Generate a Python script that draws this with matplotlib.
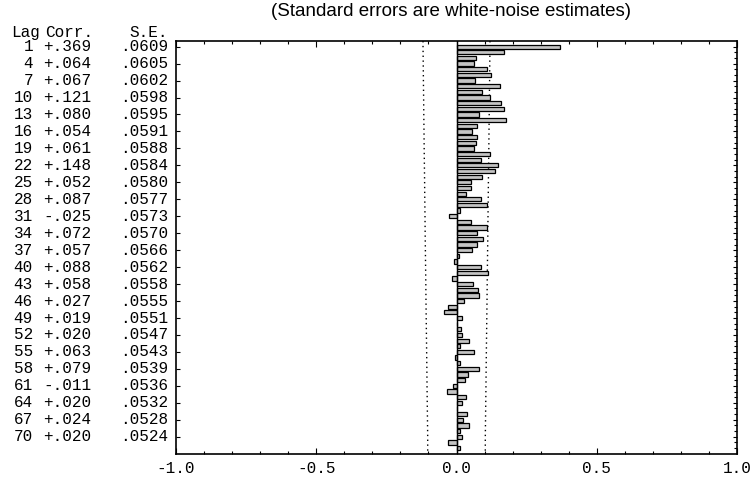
import numpy as np
import matplotlib
matplotlib.use("Agg")
import matplotlib.pyplot as plt
from matplotlib.transforms import blended_transform_factory

lags = list(range(1, 73))
corr = [
    0.369, 0.168, 0.071, 0.064, 0.109, 0.124, 0.067, 0.156, 0.092, 0.121,
    0.160, 0.171, 0.080, 0.175, 0.074, 0.054, 0.072, 0.069, 0.061, 0.119,
    0.089, 0.148, 0.139, 0.091, 0.052, 0.051, 0.033, 0.087, 0.107, 0.013,
    -0.025, 0.051, 0.107, 0.072, 0.096, 0.073, 0.057, 0.008, -0.009, 0.088,
    0.114, -0.015, 0.058, 0.075, 0.079, 0.027, -0.029, -0.045, 0.019, 0.002,
    0.016, 0.020, 0.044, 0.014, 0.063, -0.005, 0.013, 0.079, 0.040, 0.031,
    -0.011, -0.035, 0.035, 0.020, 0.000, 0.039, 0.024, 0.045, 0.011, 0.020,
    -0.029, 0.012,
]

# labelled rows (every 3rd lag)
label_lags = [1, 4, 7, 10, 13, 16, 19, 22, 25, 28, 31, 34, 37, 40, 43, 46,
              49, 52, 55, 58, 61, 64, 67, 70]
label_corr = ["+.369", "+.064", "+.067", "+.121", "+.080", "+.054", "+.061",
              "+.148", "+.052", "+.087", "-.025", "+.072", "+.057", "+.088",
              "+.058", "+.027", "+.019", "+.020", "+.063", "+.079", "-.011",
              "+.020", "+.024", "+.020"]
label_se = [.0609, .0605, .0602, .0598, .0595, .0591, .0588, .0584, .0580,
            .0577, .0573, .0570, .0566, .0562, .0558, .0555, .0551, .0547,
            .0543, .0539, .0536, .0532, .0528, .0524]

mono = "Liberation Mono"
fs = 11.5
W, H = 753, 479

fig = plt.figure(figsize=(W / 100, H / 100), dpi=100)
ax = fig.add_axes([176 / W, 1 - 453.7 / H, (737 - 176) / W, (453.7 - 41) / H])

ax.barh(lags, corr, height=0.75, color="#c4c4c4", edgecolor="black",
        linewidth=0.9, zorder=3)
ax.axvline(0, color="black", lw=1.0, zorder=4)

# white-noise confidence limits (1.96 * S.E.)
ymin, ymax = 0, 73
yl = [ymin] + label_lags + [ymax]
se = np.array([label_se[0]] + label_se + [label_se[-1]])
ax.plot(1.96 * se, yl, color="black", ls=(0, (1, 2.5)), lw=1.0, zorder=2)
ax.plot(-1.96 * se, yl, color="black", ls=(0, (1, 2.5)), lw=1.0, zorder=2)

ax.set_xlim(-1.0, 1.0)
ax.set_ylim(ymax, ymin)

ax.set_xticks([-1.0, -0.5, 0.0, 0.5, 1.0])
ax.set_xticklabels(["-1.0", "-0.5", "0.0", "0.5", "1.0"], family=mono, fontsize=fs)
ax.set_xticks(np.arange(-1.0, 1.01, 0.1), minor=True)
ax.tick_params(axis="x", which="both", direction="in", top=True, bottom=True,
               width=0.8, pad=5)
ax.tick_params(axis="x", which="major", length=4)
ax.tick_params(axis="x", which="minor", length=2.5)

ax.set_yticks(label_lags)
ax.set_yticklabels([])
ax.set_yticks(lags, minor=True)
ax.tick_params(axis="y", which="major", direction="in", left=True, right=True,
               length=3, width=0.8)
ax.tick_params(axis="y", which="minor", direction="in", left=False, right=True,
               length=2.5, width=0.8)

for s in ax.spines.values():
    s.set_linewidth(1.2)

# left-hand table
tr = blended_transform_factory(fig.transFigure, ax.transData)
for lg, c, s in zip(label_lags, label_corr, label_se):
    ax.text(33 / W, lg, str(lg), transform=tr, ha="right", va="center",
            family=mono, fontsize=fs, clip_on=False)
    ax.text(43 / W, lg, c, transform=tr, ha="left", va="center",
            family=mono, fontsize=fs, clip_on=False)
    ax.text(168 / W, lg, ("%.4f" % s)[1:], transform=tr, ha="right", va="center",
            family=mono, fontsize=fs, clip_on=False)

hy = -1.55
ax.text(40 / W, hy, "Lag", transform=tr, ha="right", va="center",
        family=mono, fontsize=fs, clip_on=False)
ax.text(45 / W, hy, "Corr.", transform=tr, ha="left", va="center",
        family=mono, fontsize=fs, clip_on=False)
ax.text(168 / W, hy, "S.E.", transform=tr, ha="right", va="center",
        family=mono, fontsize=fs, clip_on=False)

fig.text(451 / W, 1 - 12 / H, "(Standard errors are white-noise estimates)",
         ha="center", va="center", family="Liberation Sans", fontsize=13.5)

fig.savefig("out.png", dpi=100)
